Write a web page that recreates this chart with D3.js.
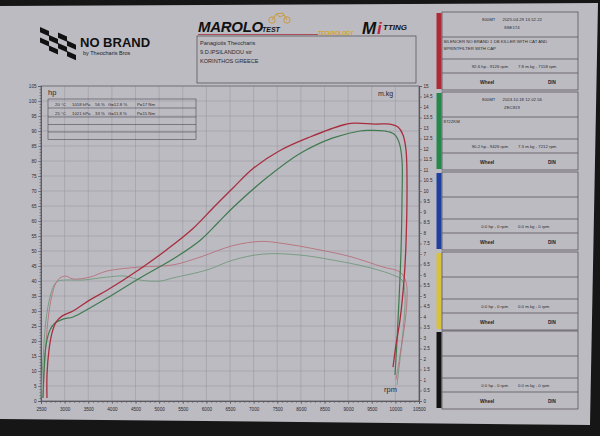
<!DOCTYPE html>
<meta charset="utf-8">
<script src="https://d3js.org/d3.v7.min.js"></script>
<style>
body { margin: 0; background: #151515; overflow: hidden; }
text { font-family: "Liberation Sans", Arial, sans-serif; }
</style>
<body>
<script>
// dyno curves, [rpm, value] in the order the roller drew them (power in hp, torque in m.kg)
var redPower = [[2627,1],[2627,8.7],[2669,17],[2733,22.7],[2817,26.3],[2944,28.3],[3177,30],[3537,33.7],[3897,36.9],
  [4595,44],[5167,50.5],[5717,57.5],[6150,64.5],[6563,71],[6987,77.5],[7558,83.5],[8193,88],[8892,92],[9126,92.6],
  [9570,92.3],[9886,92.3],[10056,91.3],[10162,88.7],[10225,83.7],[10246,73.7],[10225,52.7],[10183,40.3],[10098,27],
  [10013,18.7],[9950,11.3]];
var greenPower = [[2542,1],[2564,10.3],[2606,18.7],[2690,23.7],[2796,26],[2966,27.3],[3177,28],[3537,31],[3897,34.3],
  [4595,41],[5294,47.3],[5865,53.5],[6250,59.5],[6563,64.5],[7283,74.5],[7981,82.5],[8680,87.7],[9251,90],[9426,90.2],[9780,90],
  [9971,89],[10077,86.3],[10140,80.3],[10140,67],[10120,50.3],[10077,33.7],[10035,20.3],[9992,8.7]];
var redTorque = [[2542,0.15],[2585,1.95],[2648,3.86],[2733,5.05],[2817,5.62],[2902,5.86],[3029,5.95],[3177,5.81],
  [3537,5.9],[3897,6.19],[4595,6.38],[5294,6.48],[5865,6.85],[6563,7.4],[7158,7.6],[7622,7.5],[8341,7.22],[9040,6.88],
  [9738,6.38],[10098,6.14],[10225,5.67],[10246,4.81],[10183,3.38],[10098,2.19],[10013,1]];
var greenTorque = [[2500,0.15],[2542,1.95],[2606,3.86],[2690,4.95],[2775,5.52],[2860,5.71],[3050,5.76],[3389,5.76],
  [3897,5.9],[4278,5.95],[4595,5.76],[5019,5.71],[5294,5.86],[6013,6.24],[6563,6.71],[7212,7.0],[7981,6.95],[8680,6.71],
  [9400,6.38],[9950,6.0],[10140,5.76],[10204,5.05],[10183,3.86],[10120,2.43],[10035,0.76]];

var rpmTicks = ["2500","3000","3500","4000","4500","5000","5500","6000","6500","7000","7500","8000","8500","9000","9500","10000","10500"];
var hpTicks = ["0","5","10","15","20","25","30","35","40","45","50","55","60","65","70","75","80","85","90","95","100","105"];
var kgTicks = ["0","0.5","1","1.5","2","2.5","3","3.5","4","4.5","5","5.5","6","6.5","7","7.5","8","8.5","9","9.5","10","10.5","11","11.5","12","12.5","13","13.5","14","14.5","15"];

// weather rows of the two runs
var condTemp = ["20 °C", "25 °C"];
var condPress = ["1018 hPa", "1021 hPa"];
var condHum = ["56 %", "33 %"];
var condG = ["G=12.8 %", "G=11.8 %"];
var condP = ["P=17 Nm", "P=15 Nm"];

// side panels
var runColors = ["#b02a36", "#23884a", "#1f3f9e", "#d6c23c", "#121212"];
var runTitles = ["800MT      2025.04.29 13.52.22", "800MT      2024.10.18 12.02.56", "", "", ""];
var runCodes = ["8SE174", "ZEC819", "", "", ""];
var runNotes = [["SILENCER NO BRAND 1 DB KILLER WITH CAT AND", "SPRINTFILTER WITH CAP"], ["872ZKM"], [], [], []];
var runHp = ["92.6 hp - 9126 rpm", "90.2 hp - 9426 rpm", "0.0 hp - 0 rpm", "0.0 hp - 0 rpm", "0.0 hp - 0 rpm"];
var runKg = ["7.8 m.kg - 7158 rpm", "7.3 m.kg - 7212 rpm", "0.0 m.kg - 0 rpm", "0.0 m.kg - 0 rpm", "0.0 m.kg - 0 rpm"];

var W = 600, H = 436;
var svg = d3.select("body").append("svg").attr("width", W).attr("height", H);

svg.append("rect").attr("width", W).attr("height", H).attr("fill", "#161616");
// the sheet of paper
svg.append("polygon")
  .attr("points", "0,6 598,3 590,425 0,419")
  .attr("fill", "#bdbbc2");

var ink = "#2a2a2e";

// scales
var x = d3.scaleLinear().domain([2500, 10500]).range([41, 419]);
var yHp = d3.scaleLinear().domain([0, 105]).range([401, 86]);
var yKg = d3.scaleLinear().domain([0, 15]).range([401, 86]);

// grid
var grid = svg.append("g");
grid.selectAll(".vg").data(rpmTicks).enter().append("line")
  .attr("x1", function(d) { return x(+d); }).attr("x2", function(d) { return x(+d); })
  .attr("y1", yHp(105)).attr("y2", yHp(0))
  .attr("stroke", "#9c9aa3").attr("stroke-width", 0.6);
grid.selectAll(".hg").data(hpTicks).enter().append("line")
  .attr("x1", x(2500)).attr("x2", x(10500))
  .attr("y1", function(d) { return yHp(+d); }).attr("y2", function(d) { return yHp(+d); })
  .attr("stroke", "#9c9aa3").attr("stroke-width", 0.6);

svg.append("rect")
  .attr("x", x(2500)).attr("y", yHp(105))
  .attr("width", x(10500) - x(2500)).attr("height", yHp(0) - yHp(105))
  .attr("fill", "none").attr("stroke", "#6e6c74").attr("stroke-width", 0.8);

// axes
function styleAxis(g) {
  g.select(".domain").attr("stroke", "#5a5860").attr("stroke-width", 0.8);
  g.selectAll(".tick line").attr("stroke", "#5a5860").attr("stroke-width", 0.6);
  g.selectAll("text").attr("fill", ink).attr("font-size", "4.6px")
    .attr("font-family", "Liberation Sans, Arial, sans-serif");
}

svg.append("g").attr("transform", "translate(0," + yHp(0) + ")")
  .call(d3.axisBottom(x).tickValues(d3.range(2500, 10501, 100)).tickSize(2).tickFormat(""))
  .call(styleAxis);
svg.append("g").attr("transform", "translate(0," + yHp(0) + ")")
  .call(d3.axisBottom(x).tickValues(rpmTicks.map(Number)).tickSize(3).tickPadding(4)
    .tickFormat(function(d, i) { return rpmTicks[i]; }))
  .call(styleAxis);

svg.append("g").attr("transform", "translate(" + x(2500) + ",0)")
  .call(d3.axisLeft(yHp).tickValues(d3.range(0, 106, 1)).tickSize(1.5).tickFormat(""))
  .call(styleAxis);
svg.append("g").attr("transform", "translate(" + x(2500) + ",0)")
  .call(d3.axisLeft(yHp).tickValues(hpTicks.map(Number)).tickSize(3).tickPadding(1.5)
    .tickFormat(function(d, i) { return hpTicks[i]; }))
  .call(styleAxis);

svg.append("g").attr("transform", "translate(" + x(10500) + ",0)")
  .call(d3.axisRight(yKg).tickValues(d3.range(0, 15.01, 0.1)).tickSize(1.5).tickFormat(""))
  .call(styleAxis);
svg.append("g").attr("transform", "translate(" + x(10500) + ",0)")
  .call(d3.axisRight(yKg).tickValues(kgTicks.map(Number)).tickSize(3).tickPadding(1.5)
    .tickFormat(function(d, i) { return kgTicks[i]; }))
  .call(styleAxis);

svg.append("text").attr("x", 48).attr("y", 95).attr("font-size", "7.5px").attr("fill", ink).text("hp");
svg.append("text").attr("x", 378).attr("y", 96).attr("font-size", "7px").attr("fill", ink).text("m.kg");
svg.append("text").attr("x", 384).attr("y", 392).attr("font-size", "7.5px").attr("fill", ink).text("rpm");

// weather legend box
var lg = svg.append("g");
var lgRows = [99, 108, 117, 124.5, 132, 139.5];
lg.append("rect").attr("x", 48).attr("y", 99).attr("width", 148).attr("height", 40.5)
  .attr("fill", "none").attr("stroke", "#4a4850").attr("stroke-width", 0.6);
lg.selectAll(".row").data(lgRows.slice(1, 5)).enter().append("line")
  .attr("x1", 48).attr("x2", 196).attr("y1", function(d) { return d; }).attr("y2", function(d) { return d; })
  .attr("stroke", "#4a4850").attr("stroke-width", 0.6);
var lgCols = [[condTemp, 55], [condPress, 72], [condHum, 95], [condG, 108], [condP, 137]];
lgCols.forEach(function(c) {
  lg.selectAll(null).data(c[0]).enter().append("text")
    .attr("x", c[1]).attr("y", function(d, i) { return 105.5 + i * 9; })
    .attr("font-size", "4.3px").attr("fill", ink).text(function(d) { return d; });
});

// curves
var lineHp = d3.line().x(function(d) { return x(d[0]); }).y(function(d) { return yHp(d[1]); })
  .curve(d3.curveCatmullRom.alpha(0.5));
var lineKg = d3.line().x(function(d) { return x(d[0]); }).y(function(d) { return yKg(d[1]); })
  .curve(d3.curveCatmullRom.alpha(0.5));

svg.append("path").datum(greenTorque).attr("d", lineKg)
  .attr("fill", "none").attr("stroke", "#6f9a7c").attr("stroke-width", 0.9);
svg.append("path").datum(redTorque).attr("d", lineKg)
  .attr("fill", "none").attr("stroke", "#b7707a").attr("stroke-width", 0.9);
svg.append("path").datum(greenPower).attr("d", lineHp)
  .attr("fill", "none").attr("stroke", "#3f7a4e").attr("stroke-width", 1.2);
svg.append("path").datum(redPower).attr("d", lineHp)
  .attr("fill", "none").attr("stroke", "#a82e3e").attr("stroke-width", 1.3);

// header: NO BRAND logo, a waving chequered flag
var flag = svg.append("g").attr("transform", "translate(40,27) skewY(24)");
for (var r = 0; r < 4; r++) {
  for (var c = 0; c < 4; c++) {
    if ((r + c) % 2 === 0) {
      flag.append("rect").attr("x", c * 9).attr("y", r * 5.2 - c * 1.2)
        .attr("width", 9).attr("height", 5.2).attr("fill", "#111");
    }
  }
}
svg.append("text").attr("x", 80).attr("y", 47).attr("font-size", "13px").attr("font-weight", "bold")
  .attr("fill", "#111").text("NO BRAND");
svg.append("text").attr("x", 83).attr("y", 54.5).attr("font-size", "5.5px").attr("fill", "#222")
  .text("by Theocharis Bros");

// MAROLO TEST logo
svg.append("text").attr("x", 198).attr("y", 32).attr("font-size", "15px").attr("font-weight", "900")
  .attr("font-style", "italic").attr("fill", "#111").attr("letter-spacing", "-0.3").text("MAROLO");
svg.append("text").attr("x", 262).attr("y", 32).attr("font-size", "7px").attr("font-weight", "bold")
  .attr("font-style", "italic").attr("fill", "#111").text("TEST");
var moto = svg.append("g").attr("fill", "none").attr("stroke", "#c99a3e").attr("stroke-width", 1);
moto.append("circle").attr("cx", 272).attr("cy", 20).attr("r", 3.2);
moto.append("circle").attr("cx", 287).attr("cy", 20).attr("r", 3.2);
moto.append("path").attr("d", "M272,20 L276,14 L283,13 L287,20 M276,14 L280,17 L284,15");
svg.append("line").attr("x1", 198).attr("x2", 318).attr("y1", 34.5).attr("y2", 34.5)
  .attr("stroke", "#a8404e").attr("stroke-width", 0.9);
svg.append("text").attr("x", 318).attr("y", 35).attr("font-size", "5px").attr("font-weight", "bold")
  .attr("font-style", "italic").attr("fill", "#d6a21e").text("TECHNOLOGY");
svg.append("text").attr("x", 362).attr("y", 34).attr("font-size", "17px").attr("font-weight", "900")
  .attr("font-style", "italic").attr("fill", "#111").text("M");
svg.append("text").attr("x", 377).attr("y", 34).attr("font-size", "17px").attr("font-weight", "900")
  .attr("font-style", "italic").attr("fill", "#c0283a").text("i");
svg.append("text").attr("x", 383).attr("y", 30).attr("font-size", "8px").attr("font-weight", "900")
  .attr("font-style", "italic").attr("fill", "#111").text("TTING");

// customer box
svg.append("rect").attr("x", 197).attr("y", 36).attr("width", 219).attr("height", 47)
  .attr("fill", "none").attr("stroke", "#4a4850").attr("stroke-width", 0.7);
["Panagiotis Theocharis", "9.D.IPSILANDOU str", "KORINTHOS GREECE"].forEach(function(t, i) {
  svg.append("text").attr("x", 200).attr("y", 44.5 + i * 9).attr("font-size", "5.6px").attr("fill", ink).text(t);
});

// run panels on the right
var panelTop = [12, 92, 172, 252, 331];
var pX = 442, pW = 136, pH = 78;
var panels = svg.selectAll(".panel").data(panelTop).enter().append("g")
  .attr("transform", function(d) { return "translate(0," + d + ")"; });
panels.append("rect").attr("x", 436.5).attr("y", 1).attr("width", 5).attr("height", pH - 2)
  .attr("fill", function(d, i) { return runColors[i]; });
panels.append("rect").attr("x", pX).attr("y", 0).attr("width", pW).attr("height", pH)
  .attr("fill", "none").attr("stroke", "#4a4850").attr("stroke-width", 0.7);
[25, 47, 61].forEach(function(r) {
  panels.append("line").attr("x1", pX).attr("x2", pX + pW).attr("y1", r).attr("y2", r)
    .attr("stroke", "#4a4850").attr("stroke-width", 0.7);
});
panels.append("text").attr("x", pX + pW / 2 + 2).attr("y", 9).attr("text-anchor", "middle")
  .attr("font-size", "4.3px").attr("fill", ink).attr("xml:space", "preserve")
  .text(function(d, i) { return runTitles[i]; });
panels.append("text").attr("x", pX + pW / 2 + 2).attr("y", 17).attr("text-anchor", "middle")
  .attr("font-size", "4.3px").attr("fill", ink)
  .text(function(d, i) { return runCodes[i]; });
panels.each(function(d, i) {
  var g = d3.select(this);
  runNotes[i].forEach(function(t, k) {
    g.append("text").attr("x", pX + 1.5).attr("y", 31 + k * 7).attr("font-size", "4.3px").attr("fill", ink).text(t);
  });
  g.append("text").attr("x", pX + 66).attr("y", 56).attr("text-anchor", "end")
    .attr("font-size", "4.3px").attr("fill", ink).text(runHp[i]);
  g.append("text").attr("x", pX + 76).attr("y", 56)
    .attr("font-size", "4.3px").attr("fill", ink).text(runKg[i]);
  g.append("text").attr("x", pX + 38).attr("y", 71.5).attr("font-size", "4.8px").attr("font-weight", "bold")
    .attr("fill", "#1e1e22").text("Wheel");
  g.append("text").attr("x", pX + 106).attr("y", 71.5).attr("font-size", "4.6px").attr("font-weight", "bold")
    .attr("fill", "#1e1e22").text("DIN");
});
</script>
</body>
